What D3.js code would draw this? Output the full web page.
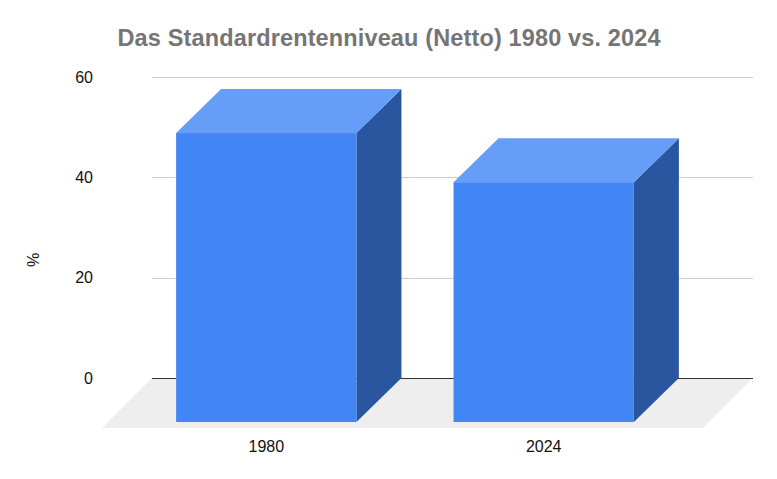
<!DOCTYPE html>
<html>
<head>
<meta charset="utf-8">
<script src="https://cdn.jsdelivr.net/npm/d3@7"></script>
<style>
	body { margin: 0; background: #fff; }
	svg { display: block; font-family: "Liberation Sans", Arial, sans-serif; }
</style>
</head>
<body>
<svg id="chart" width="777" height="479"></svg>
<script>
const TITLE = "Das Standardrentenniveau (Netto) 1980 vs. 2024";
const CATEGORIES = ["1980", "2024"];
const VALUES = [57.6, 47.8];
const Y_TICKS = [0, 20, 40, 60];
const Y_LABEL = "%";

const COLORS = {
	front: "#4285f4",
	top: "#669df6",
	side: "#2a56a0",
	floor: "#eeeeee",
	grid: "#cccccc",
	zero: "#333333"
};

// back plane of the 3d box
const PLOT = { left: 152, right: 753, top: 77, bottom: 378 };
const BAR_DX = 45, BAR_DY = 44;
const FLOOR_D = 50;

const svg = d3.select("#chart");

const y = d3.scaleLinear()
	.domain([0, 60])
	.range([PLOT.bottom, PLOT.top]);

// front plane positions of the bars
const x = d3.scaleBand()
	.domain(CATEGORIES)
	.range([PLOT.left - FLOOR_D + 2, PLOT.right - FLOOR_D + 3])
	.paddingInner(0.35)
	.paddingOuter(0.26);

const poly = (pts) => pts.map((p) => p.join(",")).join(" ");

// floor
svg.append("polygon")
	.attr("points", poly([
		[PLOT.left, y(0)], [PLOT.right, y(0)],
		[PLOT.right - FLOOR_D, y(0) + FLOOR_D], [PLOT.left - FLOOR_D, y(0) + FLOOR_D]
	]))
	.attr("fill", COLORS.floor);

// grid
svg.append("g")
	.selectAll("line")
	.data(Y_TICKS.filter((t) => t !== 0))
	.enter().append("line")
	.attr("x1", PLOT.left)
	.attr("x2", PLOT.right)
	.attr("y1", (d) => Math.round(y(d)) + 0.5)
	.attr("y2", (d) => Math.round(y(d)) + 0.5)
	.attr("stroke", COLORS.grid)
	.attr("stroke-width", 1);

svg.append("line")
	.attr("x1", PLOT.left)
	.attr("x2", PLOT.right)
	.attr("y1", Math.round(y(0)) + 0.5)
	.attr("y2", Math.round(y(0)) + 0.5)
	.attr("stroke", COLORS.zero)
	.attr("stroke-width", 1);

// y tick labels
svg.append("g")
	.attr("font-size", 16)
	.attr("fill", "#111")
	.attr("text-anchor", "end")
	.selectAll("text")
	.data(Y_TICKS)
	.enter().append("text")
	.attr("x", 93)
	.attr("y", (d) => y(d))
	.attr("dy", "0.36em")
	.text((d) => d);

svg.append("text")
	.attr("transform", "translate(39,260) rotate(-90)")
	.attr("text-anchor", "middle")
	.attr("font-size", 16)
	.attr("fill", "#111")
	.text(Y_LABEL);

// bars
const bars = svg.append("g")
	.selectAll("g")
	.data(CATEGORIES.map((c, i) => ({ key: c, value: VALUES[i] })))
	.enter().append("g");

bars.append("polygon")
	.attr("points", (d) => {
		let x0 = x(d.key), x1 = x0 + x.bandwidth();
		let yt = y(d.value) + BAR_DY, yb = y(0) + BAR_DY;
		return poly([[x1, yt], [x1 + BAR_DX, yt - BAR_DY], [x1 + BAR_DX, yb - BAR_DY], [x1, yb]]);
	})
	.attr("fill", COLORS.side);

bars.append("polygon")
	.attr("points", (d) => {
		let x0 = x(d.key), x1 = x0 + x.bandwidth();
		let yt = y(d.value) + BAR_DY;
		return poly([[x0, yt], [x0 + BAR_DX, yt - BAR_DY], [x1 + BAR_DX, yt - BAR_DY], [x1, yt]]);
	})
	.attr("fill", COLORS.top);

bars.append("rect")
	.attr("x", (d) => x(d.key))
	.attr("y", (d) => y(d.value) + BAR_DY)
	.attr("width", x.bandwidth())
	.attr("height", (d) => y(0) - y(d.value))
	.attr("fill", COLORS.front);

// x labels
svg.append("g")
	.attr("font-size", 16)
	.attr("fill", "#111")
	.attr("text-anchor", "middle")
	.selectAll("text")
	.data(CATEGORIES)
	.enter().append("text")
	.attr("x", (d) => x(d) + x.bandwidth() / 2)
	.attr("y", 451.5)
	.text((d) => d);

// title
svg.append("text")
	.attr("x", 389)
	.attr("y", 46)
	.attr("text-anchor", "middle")
	.attr("font-size", 23.5)
	.attr("font-weight", "bold")
	.attr("fill", "#757575")
	.attr("textLength", 543)
	.attr("lengthAdjust", "spacing")
	.text(TITLE);
</script>
</body>
</html>
